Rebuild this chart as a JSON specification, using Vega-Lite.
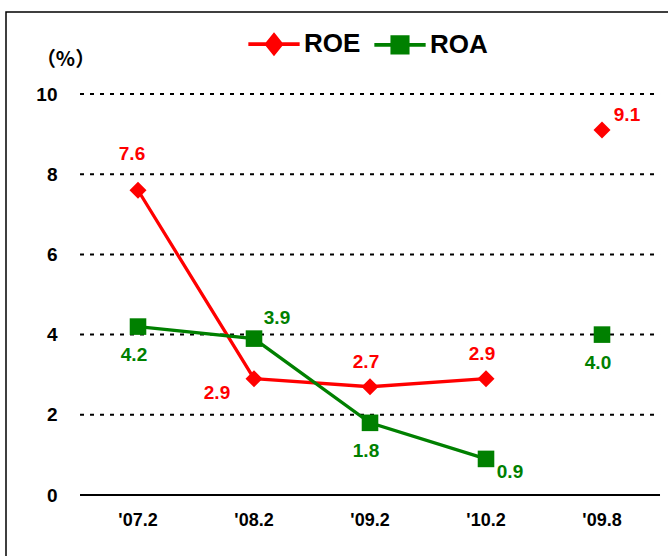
{
  "$schema": "https://vega.github.io/schema/vega-lite/v6.json",
  "width": 668,
  "height": 560,
  "autosize": {"type": "none"},
  "padding": {"left": 6, "top": 12, "right": 0, "bottom": 0},
  "background": "white",
  "config": {"view": {"stroke": "#000", "strokeWidth": 1.5}, "font": "Liberation Sans"},
  "data": {"values": [
    {"period": "'07.2", "series": "ROE", "value": 7.6},
    {"period": "'08.2", "series": "ROE", "value": 2.9},
    {"period": "'09.2", "series": "ROE", "value": 2.7},
    {"period": "'10.2", "series": "ROE", "value": 2.9},
    {"period": "'09.8", "series": "ROE", "value": 9.1},
    {"period": "'07.2", "series": "ROA", "value": 4.2},
    {"period": "'08.2", "series": "ROA", "value": 3.9},
    {"period": "'09.2", "series": "ROA", "value": 1.8},
    {"period": "'10.2", "series": "ROA", "value": 0.9},
    {"period": "'09.8", "series": "ROA", "value": 4.0}
  ]},
  "encoding": {
    "x": {
      "field": "period", "type": "nominal", "title": null,
      "scale": {"type": "band", "domain": ["'07.2", "'08.2", "'09.2", "'10.2", "'09.8"], "paddingInner": 0, "paddingOuter": 0.3793, "align": 0.841},
      "axis": {"orient": "bottom", "offset": -77, "domain": false, "ticks": false, "grid": false, "labelPadding": 16, "labelFontSize": 18, "labelFontWeight": "bold", "labelColor": "#000", "labelAngle": 0, "labelFont": "Liberation Sans"}
    },
    "y": {
      "field": "value", "type": "quantitative",
      "scale": {"domain": [-1.92, 12.045], "nice": false, "zero": false},
      "axis": {"values": [0, 2, 4, 6, 8, 10], "grid": false, "domain": false, "ticks": false, "offset": -53, "labelPadding": 2, "labelFont": "Liberation Sans", "labelFontWeight": "bold", "labelFontSize": 19, "labelColor": "#000",
        "title": "（%）", "titleAngle": 0, "titleX": 6, "titleY": 47, "titleAlign": "center", "titleBaseline": "middle", "titleFontSize": 20, "titleFontWeight": "bold", "titleFont": "Noto Sans CJK JP", "titleColor": "#000"}
    }
  },
  "layer": [
    {
      "data": {"values": [{"value": 2}, {"value": 4}, {"value": 6}, {"value": 8}, {"value": 10}]},
      "mark": {"type": "rule", "color": "#000", "strokeWidth": 2, "strokeDash": [4, 6]},
      "encoding": {
        "x": {"datum": "'07.2", "bandPosition": 0},
        "x2": {"datum": "'09.8", "bandPosition": 1},
        "y": {"field": "value", "type": "quantitative"}
      }
    },
    {
      "data": {"values": [{"value": 0}]},
      "mark": {"type": "rule", "color": "#000", "strokeWidth": 2},
      "encoding": {
        "x": {"datum": "'07.2", "bandPosition": 0},
        "x2": {"datum": "'09.8", "bandPosition": 1},
        "y": {"field": "value", "type": "quantitative"}
      }
    },
    {
      "transform": [{"filter": {"not": {"field": "period", "equal": "'09.8"}}}],
      "mark": {"type": "line", "strokeWidth": 3.3},
      "encoding": {
        "color": {
          "field": "series", "type": "nominal",
          "scale": {"domain": ["ROE", "ROA"], "range": ["#FF0000", "#008000"]},
          "legend": {
            "orient": "none", "legendX": 255, "legendY": 19, "direction": "horizontal", "title": null, "padding": 0,
            "labelFontSize": 26, "labelFontWeight": "bold", "labelColor": "#000", "labelFont": "Liberation Sans",
            "symbolSize": 324, "symbolStrokeWidth": 3, "labelOffset": 17, "columnPadding": 5,
            "encode": {"symbols": {"update": {
              "shape": {"signal": "datum.value === 'ROE' ? 'M-2.85,0H2.85M0,-1L0.8,0L0,1L-0.8,0Z' : 'M-2.85,0H2.85M-0.85,-0.85H0.85V0.85H-0.85Z'"},
              "stroke": {"scale": "color", "field": "value"},
              "fill": {"scale": "color", "field": "value"},
              "strokeWidth": {"value": 3.8},
              "opacity": {"value": 1}
            }}}
          }
        }
      }
    },
    {
      "transform": [{"filter": {"field": "series", "equal": "ROE"}}],
      "mark": {"type": "point", "filled": true, "opacity": 1, "size": 290, "shape": "diamond", "color": "#FF0000"}
    },
    {
      "transform": [{"filter": {"field": "series", "equal": "ROA"}}],
      "mark": {"type": "point", "filled": true, "opacity": 1, "size": 275, "shape": "square", "color": "#008000"}
    },
    {
      "transform": [{"filter": {"and": [{"field": "series", "equal": "ROE"}, {"field": "period", "equal": "'07.2"}]}}],
      "mark": {"type": "text", "color": "#FF0000", "fontWeight": "bold", "fontSize": 19, "dx": -6, "dy": -36, "baseline": "middle", "align": "center"},
      "encoding": {"text": {"field": "value", "type": "quantitative", "format": ".1f"}}
    },
    {
      "transform": [{"filter": {"and": [{"field": "series", "equal": "ROE"}, {"field": "period", "oneOf": ["'09.2", "'10.2"]}]}}],
      "mark": {"type": "text", "color": "#FF0000", "fontWeight": "bold", "fontSize": 19, "dx": -4, "dy": -25, "baseline": "middle", "align": "center"},
      "encoding": {"text": {"field": "value", "type": "quantitative", "format": ".1f"}}
    },
    {
      "transform": [{"filter": {"and": [{"field": "series", "equal": "ROE"}, {"field": "period", "equal": "'08.2"}]}}],
      "mark": {"type": "text", "color": "#FF0000", "fontWeight": "bold", "fontSize": 19, "dx": -37, "dy": 14, "baseline": "middle", "align": "center"},
      "encoding": {"text": {"field": "value", "type": "quantitative", "format": ".1f"}}
    },
    {
      "transform": [{"filter": {"and": [{"field": "series", "equal": "ROE"}, {"field": "period", "equal": "'09.8"}]}}],
      "mark": {"type": "text", "color": "#FF0000", "fontWeight": "bold", "fontSize": 19, "dx": 25, "dy": -15, "baseline": "middle", "align": "center"},
      "encoding": {"text": {"field": "value", "type": "quantitative", "format": ".1f"}}
    },
    {
      "transform": [{"filter": {"and": [{"field": "series", "equal": "ROA"}, {"field": "period", "oneOf": ["'07.2", "'09.2", "'09.8"]}]}}],
      "mark": {"type": "text", "color": "#008000", "fontWeight": "bold", "fontSize": 19, "dx": -4, "dy": 28, "baseline": "middle", "align": "center"},
      "encoding": {"text": {"field": "value", "type": "quantitative", "format": ".1f"}}
    },
    {
      "transform": [{"filter": {"and": [{"field": "series", "equal": "ROA"}, {"field": "period", "equal": "'08.2"}]}}],
      "mark": {"type": "text", "color": "#008000", "fontWeight": "bold", "fontSize": 19, "dx": 23, "dy": -21, "baseline": "middle", "align": "center"},
      "encoding": {"text": {"field": "value", "type": "quantitative", "format": ".1f"}}
    },
    {
      "transform": [{"filter": {"and": [{"field": "series", "equal": "ROA"}, {"field": "period", "equal": "'10.2"}]}}],
      "mark": {"type": "text", "color": "#008000", "fontWeight": "bold", "fontSize": 19, "dx": 24, "dy": 13, "baseline": "middle", "align": "center"},
      "encoding": {"text": {"field": "value", "type": "quantitative", "format": ".1f"}}
    }
  ]
}
